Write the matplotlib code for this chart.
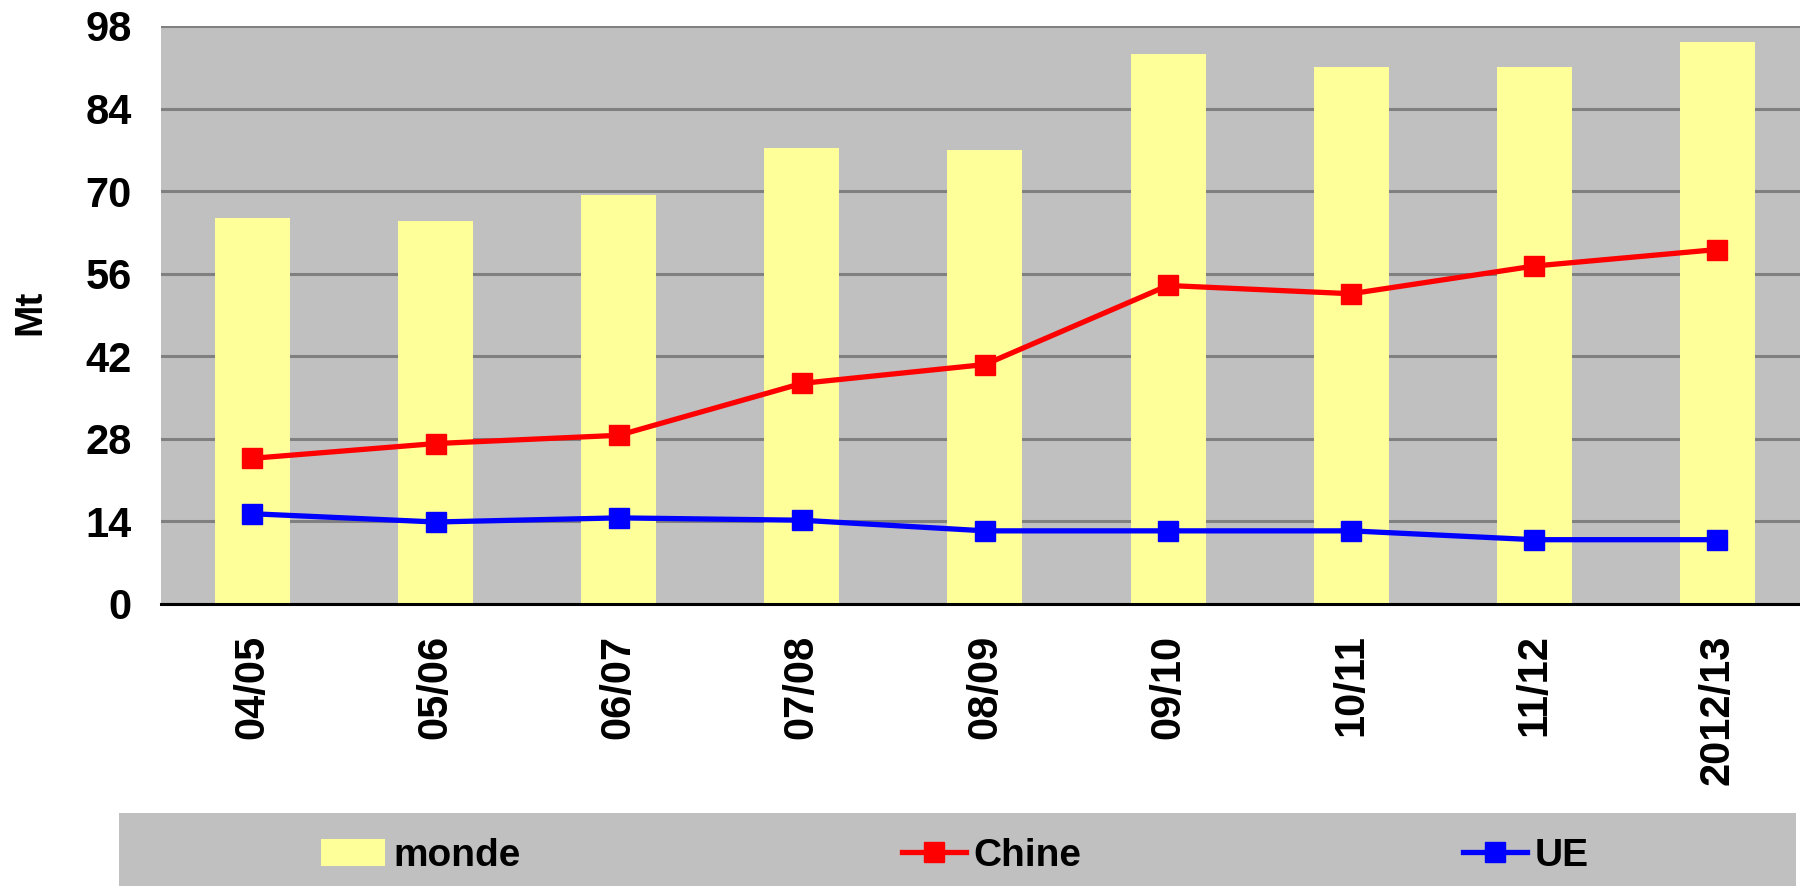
import matplotlib
matplotlib.use("Agg")
import matplotlib.pyplot as plt
from matplotlib.patches import Rectangle, Patch
from matplotlib.lines import Line2D

plt.rcParams['font.family'] = ['Liberation Sans', 'DejaVu Sans']
plt.rcParams['font.weight'] = 'bold'

categories = ["04/05", "05/06", "06/07", "07/08", "08/09", "09/10", "10/11", "11/12", "2012/13"]
monde = [65.4, 64.9, 69.3, 77.3, 77.0, 93.2, 91.0, 91.0, 95.3]
chine = [24.7, 27.2, 28.6, 37.4, 40.6, 54.0, 52.6, 57.3, 60.1]
ue = [15.3, 13.9, 14.6, 14.2, 12.4, 12.4, 12.4, 10.9, 10.9]
yticks = [0, 14, 28, 42, 56, 70, 84, 98]

fig = plt.figure(figsize=(18, 8.86), dpi=100)
ax = fig.add_axes([0.0894, 0.3183, 0.9156, 0.6524])
ax.set_facecolor('#C0C0C0')

x = list(range(len(categories)))
ax.bar(x, monde, width=0.41, color='#FFFF99', zorder=2, label='monde')
ax.plot(x, chine, color='#FF0000', lw=3.8, marker='s', ms=15, zorder=3, label='Chine')
ax.plot(x, ue, color='#0000FF', lw=3.8, marker='s', ms=15, zorder=3, label='UE')

ax.set_xlim(-0.5, len(categories) - 0.5)
ax.set_ylim(0, 98)
ax.set_yticks(yticks)
ax.set_xticks(x)
ax.set_xticklabels(categories, rotation=90, fontsize=30, fontweight='bold')
ax.set_yticklabels([str(v) for v in yticks], fontsize=30, fontweight='bold')
ax.tick_params(axis='both', length=0)
ax.tick_params(axis='x', pad=22)
ax.tick_params(axis='y', pad=21)
ax.yaxis.grid(True, color='#808080', lw=2.2, zorder=1)
ax.set_axisbelow(True)
for s in ['top', 'right', 'left']:
    ax.spines[s].set_visible(False)
ax.spines['bottom'].set_linewidth(2.2)
ax.spines['bottom'].set_zorder(4)

ax.set_ylabel("Mt", fontsize=28, fontweight='bold')
ax.yaxis.set_label_coords(-0.0685, 0.505)

# legend band
fig.patches.append(Rectangle((119 / 1800, 0), 1677 / 1800, 73 / 886,
                             transform=fig.transFigure, facecolor='#C0C0C0',
                             edgecolor='none', zorder=0))
handles = [Patch(facecolor='#FFFF99'),
           Line2D([], [], color='#FF0000', lw=3.8, marker='s', ms=15),
           Line2D([], [], color='#0000FF', lw=3.8, marker='s', ms=15)]
fig.legend(handles, ['monde', 'Chine', 'UE'], loc='center', ncol=3,
           bbox_to_anchor=(955 / 1800, 1 - 856 / 886), frameon=False,
           prop={'size': 28, 'weight': 'bold'}, columnspacing=9.8,
           handlelength=1.65, handletextpad=0.2, handleheight=0.7)

fig.savefig("out.png", dpi=100)
